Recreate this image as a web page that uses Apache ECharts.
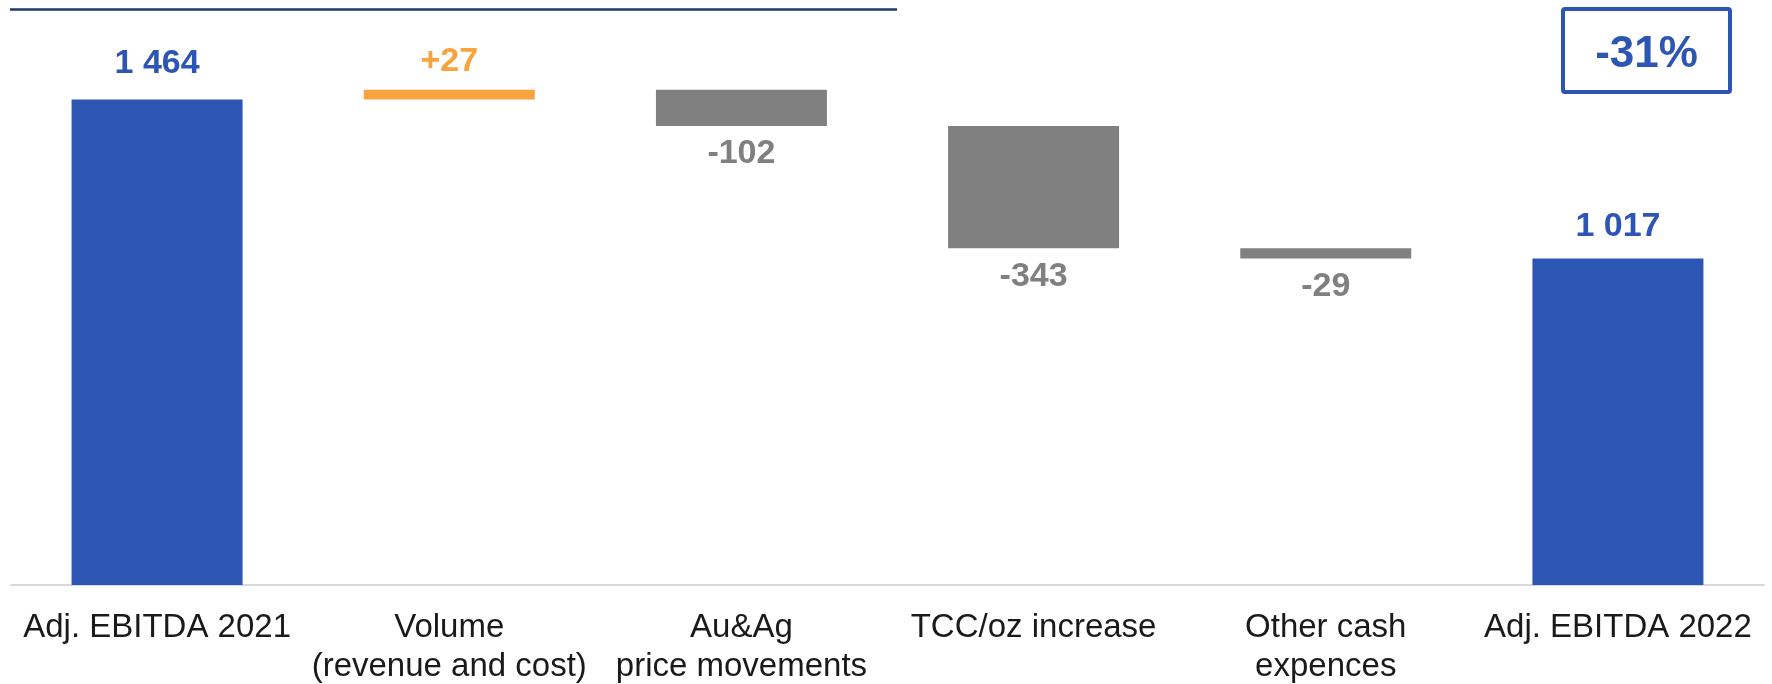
<!DOCTYPE html>
<html>
<head>
<meta charset="utf-8">
<script src="https://cdn.jsdelivr.net/npm/echarts@6/dist/echarts.min.js"></script>
<style>
html,body{margin:0;padding:0;background:#fff;}
#chart{width:1772px;height:684px;}
</style>
</head>
<body>
<div id="chart"></div>
<script>
// ---- data ----
const categories = ['Adj. EBITDA 2021', 'Volume\n(revenue and cost)', 'Au&Ag\nprice movements', 'TCC/oz increase', 'Other cash\nexpences', 'Adj. EBITDA 2022'];
const values = [1464, 27, -102, -343, -29, 1017];
const kinds = ['total', 'delta', 'delta', 'delta', 'delta', 'total'];

// ---- styles ----
const BLUE = '#2D55B4';
const ORANGE = '#F8A33D';
const GRAY = '#7F807F';
const FONT = '"Liberation Sans", Arial, sans-serif';

function fmt(v, kind) {
  const a = Math.abs(v).toString().replace(/\B(?=(\d{3})+(?!\d))/g, ' ');
  if (kind === 'total') return a;
  return (v > 0 ? '+' : '-') + a;
}

// build waterfall stacks
const base = [], height = [];
let running = 0;
values.forEach((v, i) => {
  if (kinds[i] === 'total') {
    base.push(0); height.push(v); running = v;
  } else if (v >= 0) {
    base.push(running); height.push(v); running += v;
  } else {
    base.push(running + v); height.push(-v); running += v;
  }
});

const visData = height.map((h, i) => {
  const v = values[i], k = kinds[i];
  let color, pos, dist;
  if (k === 'total') { color = BLUE; pos = 'top'; dist = i === 0 ? 19 : 15; }
  else if (v >= 0) { color = ORANGE; pos = 'top'; dist = 11; }
  else { color = GRAY; pos = 'bottom'; dist = 11; }
  return {
    value: h,
    itemStyle: { color: color },
    label: { show: true, position: pos, distance: dist, color: color,
      formatter: fmt(v, k), fontFamily: FONT, fontWeight: 'bold', fontSize: 34 }
  };
});

const first = values[0], last = values[values.length - 1];
const pct = Math.round((last / first - 1) * 100);
const pctText = (pct > 0 ? '+' : '') + pct + '%';

const chart = echarts.init(document.getElementById('chart'), null, { renderer: 'canvas' });
chart.setOption({
  animation: false,
  backgroundColor: '#ffffff',
  grid: { left: 11, right: 8, top: 51, bottom: 99, containLabel: false, outerBoundsMode: 'none' },
  xAxis: {
    type: 'category',
    data: categories,
    axisLine: { show: true, lineStyle: { color: '#D9D9D9', width: 2 } },
    axisTick: { show: false },
    axisLabel: { interval: 0, color: '#1a1a1a', fontFamily: FONT, fontSize: 33, lineHeight: 39, margin: 23 }
  },
  yAxis: {
    type: 'value', min: 100, max: 1600,
    show: false, splitLine: { show: false }
  },
  series: [
    { type: 'bar', stack: 'w', data: base, barWidth: 171, itemStyle: { color: 'transparent' }, silent: true },
    { type: 'bar', stack: 'w', data: visData, barWidth: 171 }
  ],
  graphic: [
    { type: 'line', shape: { x1: 10, y1: 9.5, x2: 897, y2: 9.5 }, style: { stroke: '#1F3864', lineWidth: 2.5 } },
    { type: 'rect', shape: { x: 1563, y: 9, width: 167, height: 83, r: 2 }, style: { fill: '#fff', stroke: BLUE, lineWidth: 4 } },
    { type: 'text', x: 1646.5, y: 55, style: { text: pctText, fill: BLUE, font: 'bold 44px ' + FONT, textAlign: 'center', textVerticalAlign: 'middle' } }
  ]
});
</script>
</body>
</html>
